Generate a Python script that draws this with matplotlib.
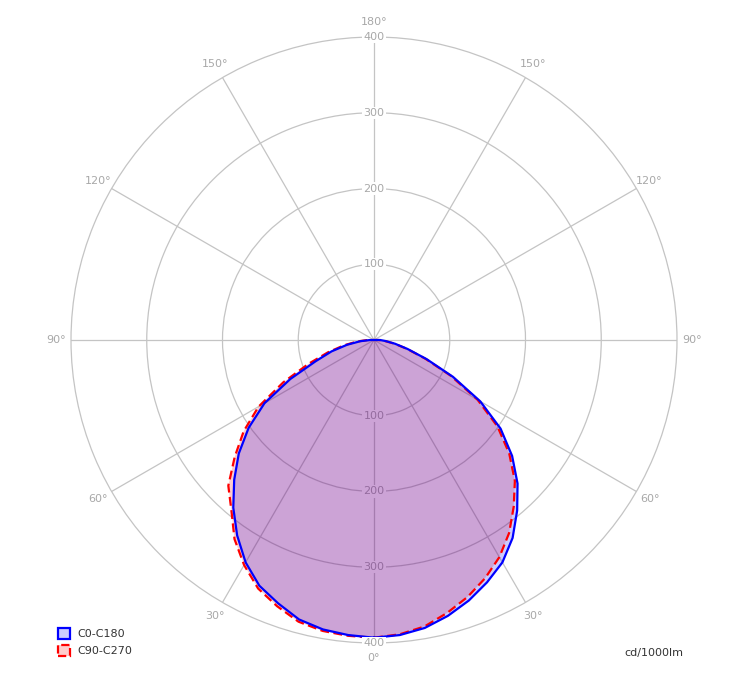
import numpy as np
import matplotlib
matplotlib.use('Agg')
import matplotlib.pyplot as plt
from matplotlib.patches import Patch

# gamma angles (deg) and intensities in cd/1000lm
gamma = [0, 5, 10, 15, 20, 25, 30, 35, 40, 45, 50, 55, 60, 65, 70, 75, 80, 85, 90]
c0   = [393, 391, 386, 377, 366, 353, 339, 319, 294, 268, 238, 204, 162, 115, 74, 46, 28, 15, 8]
c180 = [393, 391, 388, 382, 370, 358, 339, 315, 289, 261, 233, 202, 167, 122, 82, 58, 36, 18, 5]
c90  = [393, 390, 384, 373, 361, 347, 331, 311, 287, 263, 233, 199, 158, 112, 72, 45, 27, 14, 6]
c270 = [393, 392, 390, 385, 374, 362, 343, 321, 293, 272, 240, 210, 176, 132, 92, 63, 40, 22, 8]

spokes = [0, 30, 60, 90, 120, 150, 180, 210, 240, 270, 300, 330]
spoke_labels = ['0°', '30°', '60°', '90°', '120°', '150°', '180°',
                '150°', '120°', '90°', '60°', '30°']
rings = [100, 200, 300, 400]

GRID = '#c4c4c4'
TXT = '#a8a8a8'

fig = plt.figure(figsize=(7.33, 6.96), dpi=100)
ax = fig.add_axes([71/733, 53/696, 606/733, 606/696], projection='polar')
ax.set_theta_zero_location('S')
ax.set_ylim(0, 400)
ax.set_rgrids([100, 200, 300], labels=[])
ax.set_thetagrids(spokes, labels=[])
ax.grid(True, color=GRID, lw=0.9, zorder=0.5)
ax.spines['polar'].set_color(GRID)
ax.spines['polar'].set_linewidth(0.9)
ax.set_axisbelow(True)


def curve(right, left):
    g = np.radians(gamma)
    th = np.concatenate([g, -g[::-1]])
    r = np.concatenate([right, left[::-1]])
    return np.append(th, th[0]), np.append(r, r[0])


th_r, r_r = curve(np.array(c90), np.array(c270))
th_b, r_b = curve(np.array(c0), np.array(c180))

ax.fill(th_r, r_r, color=(1, 0, 0, 0.2), lw=0, zorder=2)
ax.fill(th_b, r_b, color=(0, 0, 1, 0.2), lw=0, zorder=2.1)
ax.plot(th_r, r_r, color='red', lw=1.6, ls=(0, (4, 2)), zorder=3)
ax.plot(th_b, r_b, color='blue', lw=1.6, zorder=3.1)

# radial labels on the vertical line
for r in rings:
    ax.text(np.pi, r, str(r), ha='center', va='center', fontsize=8, color=TXT,
            zorder=3.5, bbox=dict(boxstyle='square,pad=0.1', fc='white', ec='none'))
    z = 3.5 if r == 400 else 1
    ax.text(0, r, str(r), ha='center', va='center', fontsize=8, color=TXT,
            zorder=z, bbox=dict(boxstyle='square,pad=0.1', fc='white', ec='none'))

# angle labels around the outside
for a, lab in zip(spokes, spoke_labels):
    ax.text(np.radians(a), 420, lab, ha='center', va='center', fontsize=8,
            color=TXT, clip_on=False)

handles = [Patch(facecolor='#ccccff', edgecolor='blue', lw=1.6, label='C0-C180'),
           Patch(facecolor='#ffcccc', edgecolor='red', lw=1.6, ls='--', label='C90-C270')]
fig.legend(handles=handles, loc='lower left', bbox_to_anchor=(48/733, 30/696),
           frameon=False, fontsize=8, handlelength=1.1, handleheight=1.1,
           handletextpad=0.6, labelspacing=0.5, labelcolor='#333333')

fig.text(683/733, 1 - 653/696, 'cd/1000lm', ha='right', va='center',
         fontsize=8, color='#333333')

fig.savefig('out.png', dpi=100, facecolor='white')
